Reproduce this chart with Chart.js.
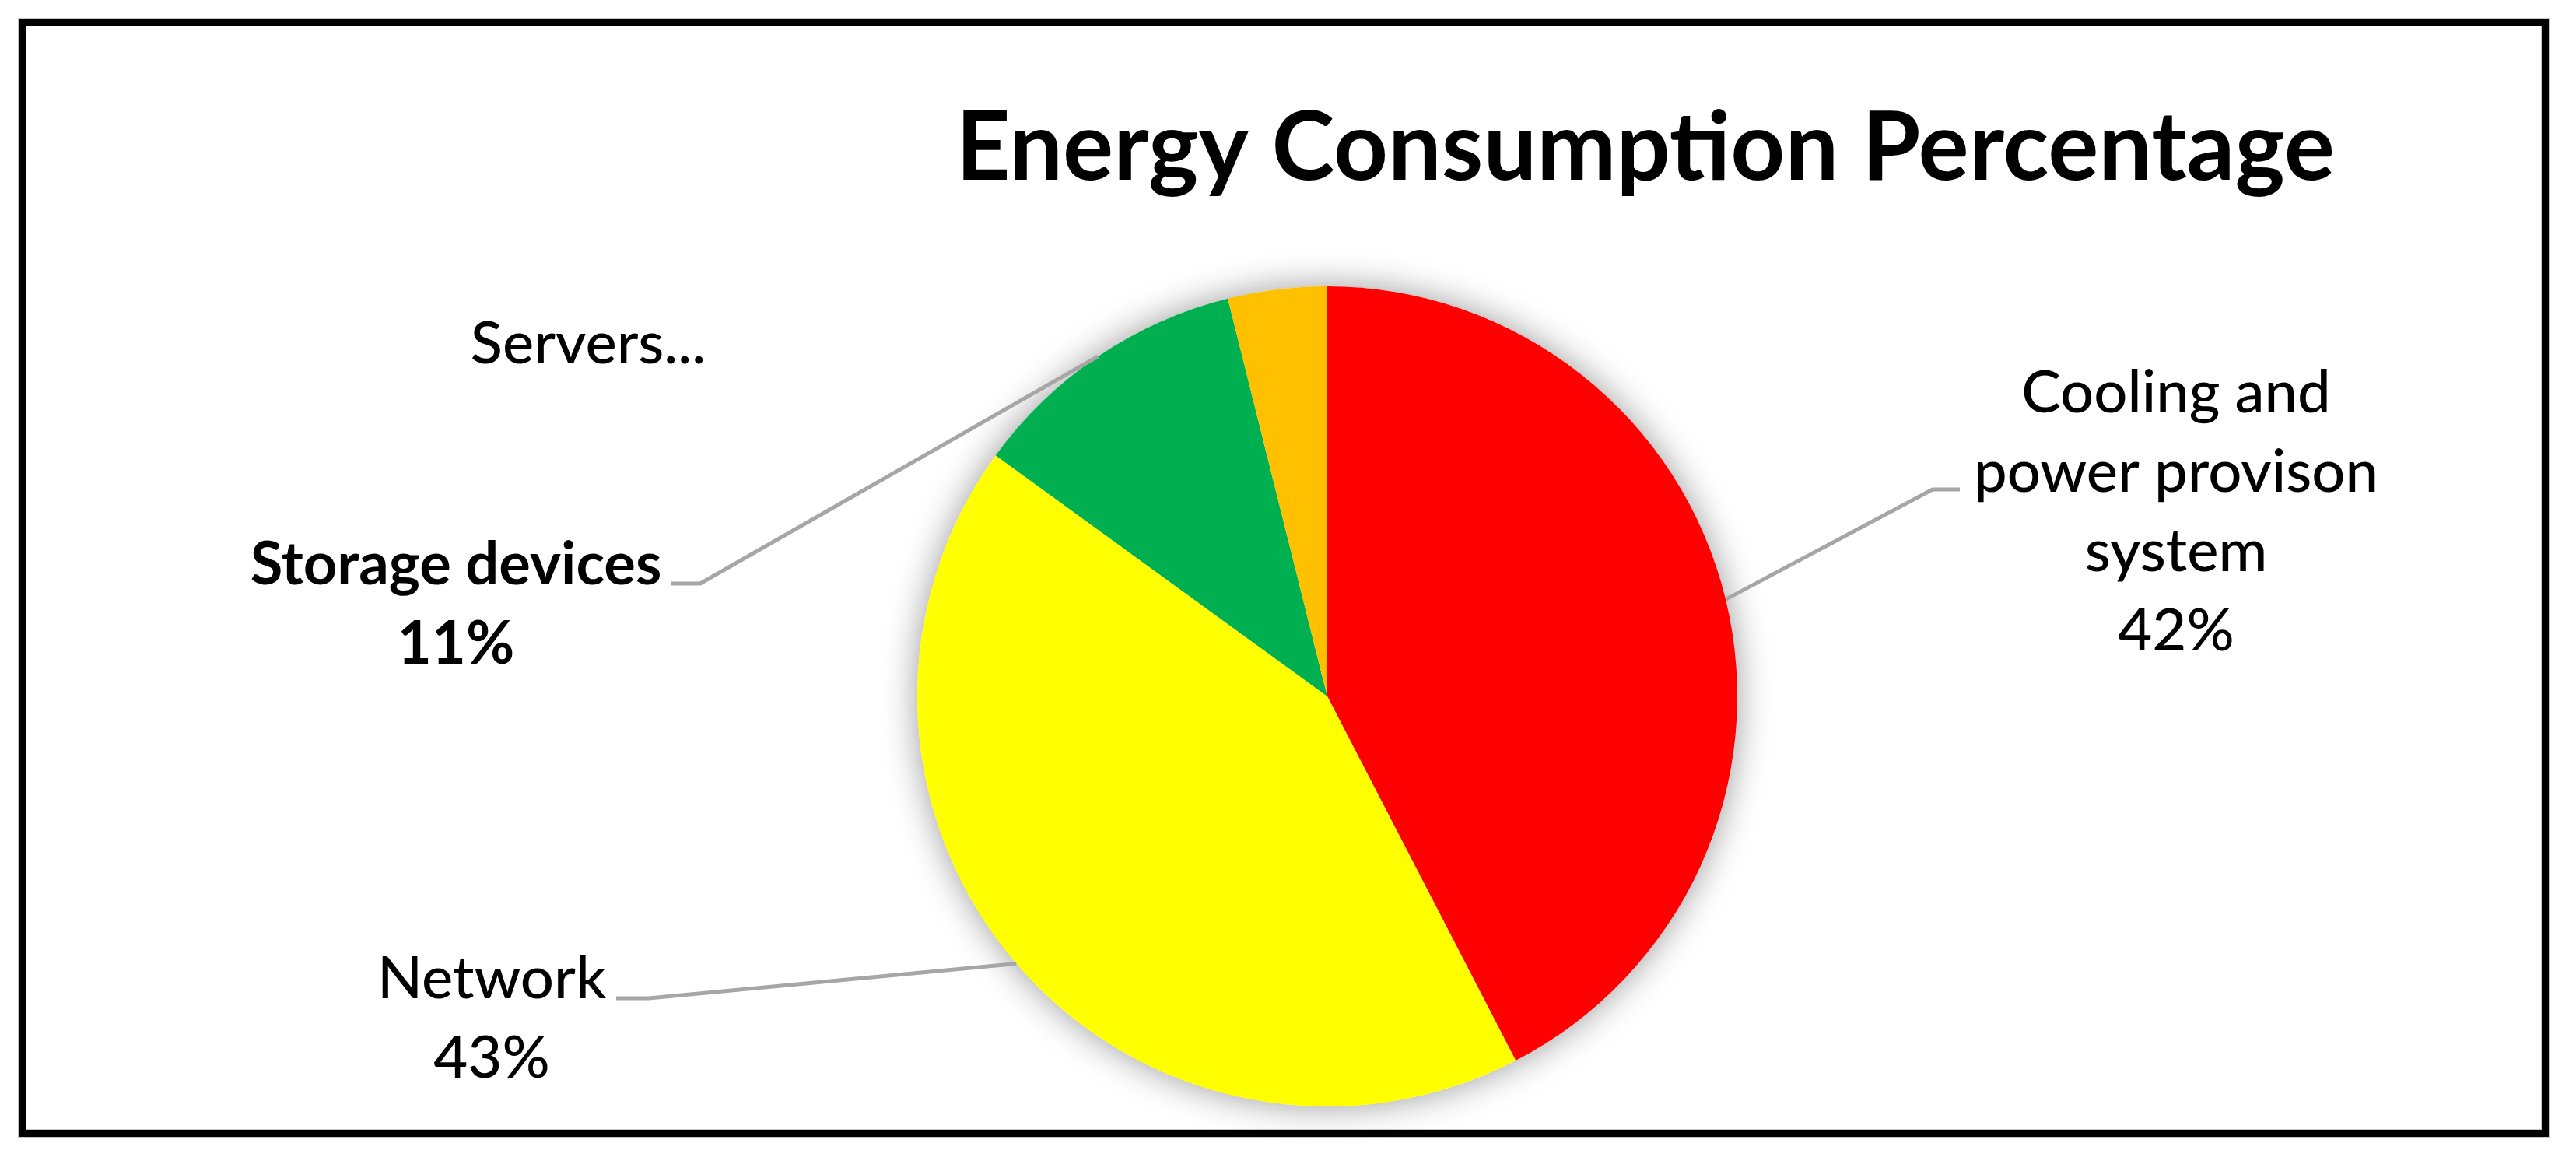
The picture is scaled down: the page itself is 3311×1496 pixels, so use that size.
<!DOCTYPE html>
<html>
<head>
<meta charset="utf-8">
<script src="https://cdn.jsdelivr.net/npm/chart.js@4.4.1/dist/chart.umd.min.js"></script>
<style>
  html, body { margin: 0; padding: 0; background: #fff; }
  #wrap { position: relative; width: 3311px; height: 1496px; }
  #frame {
    position: absolute; left: 24px; top: 24px; width: 3252px; height: 1437px;
    box-sizing: border-box; border: 9px solid #000;
    outline: 1px solid #c4c4c4; box-shadow: inset 0 0 0 1px #c4c4c4;
    pointer-events: none;
  }
</style>
</head>
<body>
<div id="wrap">
  <canvas id="chart" width="3311" height="1496"></canvas>
  <div id="frame"></div>
</div>
<script>
// Chart data
const categories = [
  ['Cooling and', 'power provison', 'system'],
  ['Network'],
  ['Storage devices'],
  ['Servers']
];
const shares = [42.4, 42.6, 11.1, 3.9];
const chartTitle = 'Energy Consumption Percentage';

// Slice colours (Excel palette)
const sliceColors = ['#FF0000', '#FFFF00', '#00B050', '#FFC000'];

// Where each data label sits: text centre x, first baseline y, leader elbow + end
const labelLayout = [
  { x: 2797, y: 530, bold: false, elbow: [2484, 629], end: [2519, 629] },
  { x: 632, y: 1283, bold: false, elbow: [834, 1283], end: [792, 1283] },
  { x: 586, y: 751, bold: true, elbow: [900, 750], end: [862, 750] },
  { x: 756, y: 467, bold: false, truncate: true }
];

const FONT = "Lato, 'Open Sans', sans-serif";
const LABEL_SIZE = 76;
const LINE_GAP = 102;

// soft outer shadow behind the pie, like Excel's
const pieShadow = {
  id: 'pieShadow',
  beforeDatasetsDraw(chart) {
    const arc = chart.getDatasetMeta(0).data[0];
    if (!arc) return;
    const { x, y, outerRadius } = arc.getProps(['x', 'y', 'outerRadius'], true);
    const ctx = chart.ctx;
    ctx.save();
    ctx.shadowColor = 'rgba(0, 0, 0, 0.4)';
    ctx.shadowBlur = 45;
    ctx.fillStyle = '#fff';
    ctx.beginPath();
    ctx.arc(x, y, outerRadius, 0, Math.PI * 2);
    ctx.fill();
    ctx.restore();
  }
};

// data labels with leader lines
const sliceLabels = {
  id: 'sliceLabels',
  afterDatasetsDraw(chart) {
    const ctx = chart.ctx;
    const meta = chart.getDatasetMeta(0);
    const total = shares.reduce((a, b) => a + b, 0);

    meta.data.forEach((arc, i) => {
      const lay = labelLayout[i];
      const p = arc.getProps(['x', 'y', 'startAngle', 'endAngle', 'outerRadius'], true);

      if (lay.elbow) {
        const mid = (p.startAngle + p.endAngle) / 2;
        const sx = p.x + Math.cos(mid) * p.outerRadius;
        const sy = p.y + Math.sin(mid) * p.outerRadius;
        ctx.save();
        ctx.strokeStyle = '#A6A6A6';
        ctx.lineWidth = 5;
        ctx.beginPath();
        ctx.moveTo(sx, sy);
        ctx.lineTo(lay.elbow[0], lay.elbow[1]);
        ctx.lineTo(lay.end[0], lay.end[1]);
        ctx.stroke();
        ctx.restore();
      }

      let lines = categories[i].slice();
      if (lay.truncate) {
        lines = [lines.join(' ') + '...'];
      } else {
        lines.push(Math.round(shares[i] / total * 100) + '%');
      }

      ctx.save();
      ctx.fillStyle = '#000';
      ctx.textAlign = 'center';
      ctx.textBaseline = 'alphabetic';
      ctx.font = (lay.bold ? 'bold ' : '500 ') + LABEL_SIZE + 'px ' + FONT;
      lines.forEach((txt, k) => ctx.fillText(txt, lay.x, lay.y + k * LINE_GAP));
      ctx.restore();
    });
  }
};

new Chart(document.getElementById('chart'), {
  type: 'pie',
  data: {
    labels: categories,
    datasets: [{
      data: shares,
      backgroundColor: sliceColors,
      borderWidth: 0,
      hoverOffset: 0
    }]
  },
  options: {
    responsive: false,
    animation: false,
    layout: {
      padding: { top: 0, left: 411, right: 310, bottom: 74 }
    },
    plugins: {
      legend: { display: false },
      tooltip: { enabled: false },
      title: {
        display: true,
        text: chartTitle,
        align: 'end',
        color: '#000',
        font: { family: FONT, size: 122, weight: 'bold', lineHeight: 1.2 },
        padding: { top: 118, bottom: 103.6 }
      }
    }
  },
  plugins: [pieShadow, sliceLabels]
});
</script>
</body>
</html>
